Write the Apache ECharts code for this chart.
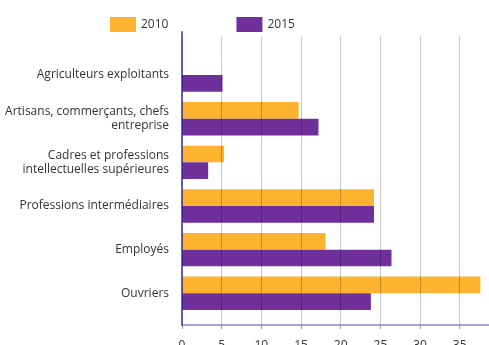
<!DOCTYPE html>
<html>
<head>
<meta charset="utf-8">
<script src="https://cdn.jsdelivr.net/npm/echarts@6/dist/echarts.min.js"></script>
<style>
  html, body { margin: 0; padding: 0; background: #fff; }
  #chart { width: 489px; height: 345px; }
</style>
</head>
<body>
<div id="chart"></div>
<script>
// Catégories socioprofessionnelles (de haut en bas)
const categories = [
  'Agriculteurs exploitants',
  'Artisans, commerçants, chefs\nentreprise',
  'Cadres et professions\nintellectuelles supérieures',
  'Professions intermédiaires',
  'Employés',
  'Ouvriers'
];
const seriesNames = ['2010', '2015'];
const values2010 = [null, 14.7, 5.3, 24.2, 18.1, 37.6];
const values2015 = [5.1, 17.2, 3.3, 24.2, 26.4, 23.8];
const xTicks = { min: 0, max: 40, interval: 5 };

const ORANGE = '#FDB32F';
const PURPLE = '#70309C';
const FONT = 'Open Sans';

const chart = echarts.init(document.getElementById('chart'), null, { renderer: 'canvas' });

const L = 182, R = -10.4;
const gridBase = { left: L, right: R, containLabel: false, outerBoundsMode: 'none' };

chart.setOption({
  animation: false,
  textStyle: { fontFamily: FONT },
  legend: {
    data: seriesNames,
    left: 105, top: 12,
    itemWidth: 26, itemHeight: 15, itemGap: 68,
    icon: 'rect',
    textStyle: { fontFamily: FONT, fontSize: 12, color: '#333' }
  },
  grid: [
    // bars
    Object.assign({ top: 53.2, bottom: 29.9 }, gridBase),
    // value axis, ticks and gridlines
    Object.assign({ top: 36.7, bottom: 20 }, gridBase),
    // left axis line
    Object.assign({ top: 31.7, bottom: 20 }, gridBase)
  ],
  xAxis: [
    { gridIndex: 0, type: 'value', min: xTicks.min, max: xTicks.max, interval: xTicks.interval, show: false },
    {
      gridIndex: 1, type: 'value', min: xTicks.min, max: xTicks.max, interval: xTicks.interval, z: 5,
      axisLine: { show: true, lineStyle: { color: '#8d85c9', width: 1.5 } },
      axisTick: { show: true, length: 4, lineStyle: { color: '#999' } },
      axisLabel: { fontFamily: FONT, fontSize: 12, color: '#333', margin: 15 },
      splitLine: { show: true, lineStyle: { color: 'rgba(0,0,0,0.22)', width: 1 } }
    },
    { gridIndex: 2, type: 'value', min: xTicks.min, max: xTicks.max, show: false }
  ],
  yAxis: [
    {
      gridIndex: 0, type: 'category', data: categories, inverse: true,
      axisLine: { show: false }, axisTick: { show: false },
      axisLabel: { fontFamily: FONT, fontSize: 12, color: '#333', margin: 13, lineHeight: 14.3, align: 'right' }
    },
    { gridIndex: 1, type: 'value', show: false },
    {
      gridIndex: 2, type: 'value', z: 6,
      axisLine: { show: true, onZero: false, lineStyle: { color: '#3a2ea6', width: 1.5 } },
      axisTick: { show: false }, axisLabel: { show: false }, splitLine: { show: false }
    }
  ],
  series: [
    {
      name: seriesNames[0], type: 'bar', xAxisIndex: 0, yAxisIndex: 0,
      data: values2010, barWidth: 16.7, barGap: '0%',
      itemStyle: { color: ORANGE }
    },
    {
      name: seriesNames[1], type: 'bar', xAxisIndex: 0, yAxisIndex: 0,
      data: values2015, barWidth: 16.7, barGap: '0%',
      itemStyle: { color: PURPLE }
    }
  ]
});
</script>
</body>
</html>
